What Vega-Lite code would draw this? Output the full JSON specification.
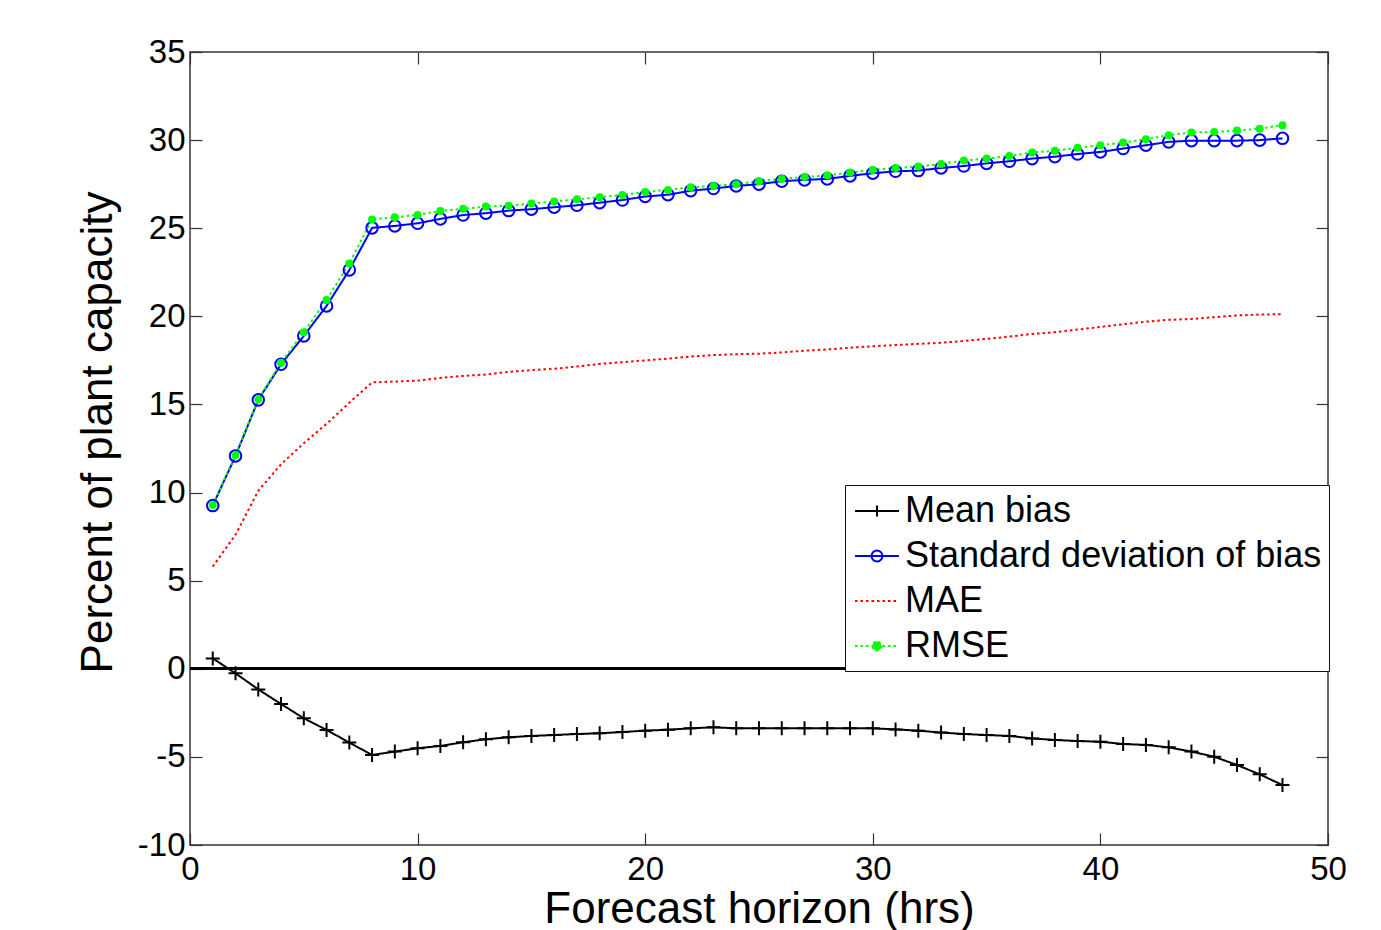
{
  "$schema": "https://vega.github.io/schema/vega-lite/v6.json",
  "width": 1138,
  "height": 793,
  "autosize": {"type": "none"},
  "padding": {"left": 190, "top": 52, "right": 53, "bottom": 85},
  "background": "white",
  "config": {
    "font": "Liberation Sans",
    "view": {"stroke": "#333", "strokeWidth": 1.5},
    "axis": {"grid": false, "domain": false, "labelColor": "#000", "titleColor": "#000", "tickColor": "#333", "tickWidth": 1.2, "titleFontWeight": "normal", "labelFontSize": 33, "titleFontSize": 44}
  },
  "data": {"values": [
    {"h": 1, "Mean bias": 0.59, "Standard deviation of bias": 9.26, "MAE": 5.8, "RMSE": 9.3},
    {"h": 2, "Mean bias": -0.26, "Standard deviation of bias": 12.08, "MAE": 7.6, "RMSE": 12.13},
    {"h": 3, "Mean bias": -1.17, "Standard deviation of bias": 15.26, "MAE": 10.1, "RMSE": 15.3},
    {"h": 4, "Mean bias": -2.0, "Standard deviation of bias": 17.28, "MAE": 11.6, "RMSE": 17.37},
    {"h": 5, "Mean bias": -2.81, "Standard deviation of bias": 18.89, "MAE": 12.8, "RMSE": 19.1},
    {"h": 6, "Mean bias": -3.47, "Standard deviation of bias": 20.59, "MAE": 13.9, "RMSE": 20.93},
    {"h": 7, "Mean bias": -4.19, "Standard deviation of bias": 22.63, "MAE": 15.1, "RMSE": 23.0},
    {"h": 8, "Mean bias": -4.89, "Standard deviation of bias": 25.02, "MAE": 16.25, "RMSE": 25.5},
    {"h": 9, "Mean bias": -4.7, "Standard deviation of bias": 25.13, "MAE": 16.3, "RMSE": 25.62},
    {"h": 10, "Mean bias": -4.51, "Standard deviation of bias": 25.28, "MAE": 16.35, "RMSE": 25.75},
    {"h": 11, "Mean bias": -4.38, "Standard deviation of bias": 25.53, "MAE": 16.5, "RMSE": 25.98},
    {"h": 12, "Mean bias": -4.17, "Standard deviation of bias": 25.75, "MAE": 16.62, "RMSE": 26.1},
    {"h": 13, "Mean bias": -4.0, "Standard deviation of bias": 25.85, "MAE": 16.7, "RMSE": 26.23},
    {"h": 14, "Mean bias": -3.89, "Standard deviation of bias": 26.0, "MAE": 16.85, "RMSE": 26.28},
    {"h": 15, "Mean bias": -3.81, "Standard deviation of bias": 26.08, "MAE": 16.95, "RMSE": 26.4},
    {"h": 16, "Mean bias": -3.76, "Standard deviation of bias": 26.19, "MAE": 17.03, "RMSE": 26.51},
    {"h": 17, "Mean bias": -3.7, "Standard deviation of bias": 26.3, "MAE": 17.15, "RMSE": 26.64},
    {"h": 18, "Mean bias": -3.66, "Standard deviation of bias": 26.45, "MAE": 17.3, "RMSE": 26.76},
    {"h": 19, "Mean bias": -3.59, "Standard deviation of bias": 26.6, "MAE": 17.4, "RMSE": 26.89},
    {"h": 20, "Mean bias": -3.51, "Standard deviation of bias": 26.8, "MAE": 17.5, "RMSE": 27.06},
    {"h": 21, "Mean bias": -3.46, "Standard deviation of bias": 26.9, "MAE": 17.6, "RMSE": 27.17},
    {"h": 22, "Mean bias": -3.38, "Standard deviation of bias": 27.13, "MAE": 17.72, "RMSE": 27.33},
    {"h": 23, "Mean bias": -3.32, "Standard deviation of bias": 27.25, "MAE": 17.8, "RMSE": 27.4},
    {"h": 24, "Mean bias": -3.38, "Standard deviation of bias": 27.4, "MAE": 17.85, "RMSE": 27.5},
    {"h": 25, "Mean bias": -3.38, "Standard deviation of bias": 27.5, "MAE": 17.88, "RMSE": 27.67},
    {"h": 26, "Mean bias": -3.38, "Standard deviation of bias": 27.67, "MAE": 17.95, "RMSE": 27.8},
    {"h": 27, "Mean bias": -3.38, "Standard deviation of bias": 27.74, "MAE": 18.05, "RMSE": 27.9},
    {"h": 28, "Mean bias": -3.38, "Standard deviation of bias": 27.8, "MAE": 18.12, "RMSE": 28.0},
    {"h": 29, "Mean bias": -3.38, "Standard deviation of bias": 27.97, "MAE": 18.22, "RMSE": 28.16},
    {"h": 30, "Mean bias": -3.38, "Standard deviation of bias": 28.12, "MAE": 18.3, "RMSE": 28.31},
    {"h": 31, "Mean bias": -3.44, "Standard deviation of bias": 28.23, "MAE": 18.37, "RMSE": 28.42},
    {"h": 32, "Mean bias": -3.51, "Standard deviation of bias": 28.27, "MAE": 18.44, "RMSE": 28.5},
    {"h": 33, "Mean bias": -3.62, "Standard deviation of bias": 28.42, "MAE": 18.5, "RMSE": 28.65},
    {"h": 34, "Mean bias": -3.7, "Standard deviation of bias": 28.53, "MAE": 18.6, "RMSE": 28.84},
    {"h": 35, "Mean bias": -3.76, "Standard deviation of bias": 28.68, "MAE": 18.72, "RMSE": 28.95},
    {"h": 36, "Mean bias": -3.81, "Standard deviation of bias": 28.8, "MAE": 18.85, "RMSE": 29.1},
    {"h": 37, "Mean bias": -3.95, "Standard deviation of bias": 28.95, "MAE": 19.0, "RMSE": 29.29},
    {"h": 38, "Mean bias": -4.04, "Standard deviation of bias": 29.06, "MAE": 19.1, "RMSE": 29.4},
    {"h": 39, "Mean bias": -4.1, "Standard deviation of bias": 29.21, "MAE": 19.25, "RMSE": 29.56},
    {"h": 40, "Mean bias": -4.14, "Standard deviation of bias": 29.33, "MAE": 19.4, "RMSE": 29.71},
    {"h": 41, "Mean bias": -4.27, "Standard deviation of bias": 29.52, "MAE": 19.55, "RMSE": 29.86},
    {"h": 42, "Mean bias": -4.32, "Standard deviation of bias": 29.71, "MAE": 19.7, "RMSE": 30.05},
    {"h": 43, "Mean bias": -4.46, "Standard deviation of bias": 29.9, "MAE": 19.8, "RMSE": 30.28},
    {"h": 44, "Mean bias": -4.7, "Standard deviation of bias": 29.97, "MAE": 19.85, "RMSE": 30.43},
    {"h": 45, "Mean bias": -4.99, "Standard deviation of bias": 29.97, "MAE": 19.95, "RMSE": 30.46},
    {"h": 46, "Mean bias": -5.46, "Standard deviation of bias": 29.97, "MAE": 20.05, "RMSE": 30.54},
    {"h": 47, "Mean bias": -5.99, "Standard deviation of bias": 30.0, "MAE": 20.1, "RMSE": 30.65},
    {"h": 48, "Mean bias": -6.6, "Standard deviation of bias": 30.1, "MAE": 20.12, "RMSE": 30.85}
  ]},
  "resolve": {"axis": {"x": "independent", "y": "independent"}},
  "layer": [
    {
      "transform": [{"fold": ["Mean bias", "Standard deviation of bias", "MAE", "RMSE"], "as": ["series", "value"]}],
      "mark": {"type": "line", "strokeWidth": 2},
      "encoding": {
        "x": {"field": "h", "type": "quantitative",
          "scale": {"domain": [0, 50], "nice": false, "zero": false},
          "axis": {"orient": "bottom", "values": [0, 10, 20, 30, 40, 50], "tickSize": -12, "labelPadding": 46, "labelBaseline": "alphabetic", "labelFlush": false, "labelOverlap": false, "labelExpr": "datum.value + ''", "title": "Forecast horizon (hrs)", "titleBaseline": "alphabetic", "titleY": 77, "titleX": 569, "titleAlign": "center"}},
        "y": {"field": "value", "type": "quantitative",
          "scale": {"domain": [-10, 35], "nice": false, "zero": false},
          "axis": {"orient": "left", "values": [-10, -5, 0, 5, 10, 15, 20, 25, 30, 35], "tickSize": -12, "labelPadding": 17, "labelAlign": "right", "labelBaseline": "middle", "labelFlush": false, "labelOverlap": false, "labelExpr": "datum.value + ''", "title": "Percent of plant capacity", "titleAngle": 270, "titleBaseline": "alphabetic", "titleAlign": "center", "titleX": -79, "titleY": 380}},
        "color": {"field": "series", "type": "nominal",
          "scale": {"domain": ["Mean bias", "Standard deviation of bias", "MAE", "RMSE"], "range": ["#000000", "#0000ff", "#ff0000", "#00ff00"]},
          "legend": {"orient": "none", "legendX": 655, "legendY": 433, "title": null, "labelFontSize": 36, "labelLimit": 1000, "labelColor": "#000", "symbolSize": 1296, "symbolStrokeWidth": 2, "padding": 7, "rowPadding": 8, "labelOffset": 9, "symbolOffset": 6, "strokeColor": "#111", "fillColor": "white",
            "encode": {"symbols": {"update": {
              "shape": {"signal": "datum.value === 'Mean bias' ? 'M-1.22,0H1.22M0,-0.3V0.3' : datum.value === 'MAE' ? 'M-1.22,0H1.22' : datum.value === 'RMSE' ? 'M-1.22,0H1.22M0.25,0A0.25,0.25 0 1 1 -0.25,0A0.25,0.25 0 1 1 0.25,0Z' : 'M-1.22,0H1.22M0.3,0A0.3,0.3 0 1 1 -0.3,0A0.3,0.3 0 1 1 0.3,0Z'"},
              "fill": {"signal": "datum.value === 'RMSE' ? '#00ff00' : 'transparent'"}
            }}}}},
        "strokeDash": {"field": "series", "type": "nominal",
          "scale": {"domain": ["Mean bias", "Standard deviation of bias", "MAE", "RMSE"], "range": [[1, 0], [1, 0], [2.5, 3], [2.5, 3]]},
          "legend": {"orient": "none", "legendX": 655, "legendY": 433, "title": null}}
      }
    },
    {
      "mark": {"type": "point", "shape": "M-1,0H1M0,-1V1", "size": 196, "filled": false, "color": "#000", "strokeWidth": 2, "opacity": 1},
      "encoding": {
        "x": {"field": "h", "type": "quantitative", "axis": null},
        "y": {"field": "Mean bias", "type": "quantitative", "axis": null}
      }
    },
    {
      "mark": {"type": "point", "shape": "circle", "size": 133, "filled": false, "color": "#0000ff", "strokeWidth": 2, "opacity": 1},
      "encoding": {
        "x": {"field": "h", "type": "quantitative", "axis": null},
        "y": {"field": "Standard deviation of bias", "type": "quantitative", "axis": null}
      }
    },
    {
      "mark": {"type": "point", "shape": "circle", "size": 64, "filled": true, "color": "#00ff00", "opacity": 1},
      "encoding": {
        "x": {"field": "h", "type": "quantitative", "axis": null},
        "y": {"field": "RMSE", "type": "quantitative", "axis": null}
      }
    },
    {
      "mark": {"type": "rule", "color": "#000", "strokeWidth": 2},
      "encoding": {
        "y": {"datum": 0, "type": "quantitative",
          "axis": {"orient": "right", "values": [-10, -5, 0, 5, 10, 15, 20, 25, 30, 35], "tickSize": -12, "labels": false, "title": null}}
      }
    },
    {
      "mark": {"type": "rule", "color": "#000", "strokeWidth": 0, "opacity": 0},
      "encoding": {
        "x": {"datum": 0, "type": "quantitative",
          "axis": {"orient": "top", "values": [0, 10, 20, 30, 40, 50], "tickSize": -12, "labels": false, "title": null}}
      }
    }
  ]
}
